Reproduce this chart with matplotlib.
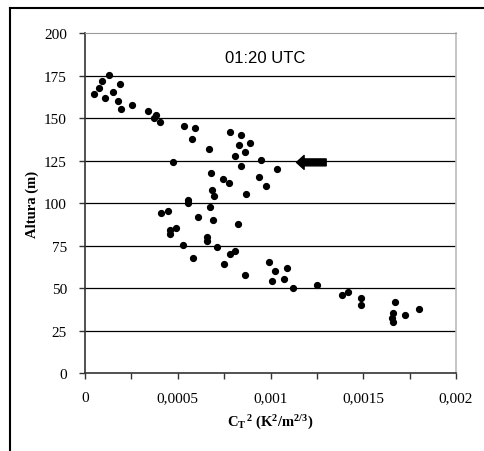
import matplotlib
matplotlib.use('Agg')
import matplotlib.pyplot as plt
from matplotlib.lines import Line2D

plt.rcParams['mathtext.fontset'] = 'custom'
plt.rcParams['mathtext.rm'] = 'Liberation Serif:bold'
plt.rcParams['mathtext.bf'] = 'Liberation Serif:bold'
plt.rcParams['mathtext.it'] = 'Liberation Serif:bold'

# C_T^2 values (K^2/m^(2/3)) and heights (m)
ct2 = [0.0000503, 0.0000773, 0.0000917, 0.000129, 0.000110, 0.000149, 0.000189,
       0.000176, 0.000196, 0.000253, 0.000340, 0.000385, 0.000372, 0.000404,
       0.000535, 0.000595, 0.000575, 0.000667, 0.000476, 0.000782, 0.000843,
       0.000828, 0.000888, 0.000810, 0.000861, 0.000843, 0.000947, 0.001037,
       0.000940, 0.000978, 0.000677, 0.000744, 0.000776, 0.000685, 0.000697,
       0.000868, 0.000555, 0.000555, 0.000672, 0.000411, 0.000449, 0.000607,
       0.000692, 0.000823, 0.000489, 0.000456, 0.000456, 0.000660, 0.000660,
       0.000528, 0.000712, 0.000810, 0.000783, 0.000580, 0.000751, 0.000863,
       0.000992, 0.001024, 0.001091, 0.001006, 0.001071, 0.001123, 0.001249,
       0.001384, 0.001418, 0.001488, 0.001488, 0.001673, 0.001660, 0.001653,
       0.001660, 0.001725, 0.001799]
altura = [164.1, 167.6, 171.9, 175.5, 162.1, 165.6, 170.0,
          160.0, 155.6, 157.8, 154.3, 152.1, 150.1, 147.8,
          145.6, 144.3, 137.8, 132.1, 124.2, 142.1, 139.9,
          134.2, 135.6, 127.8, 129.9, 122.1, 125.6, 119.9,
          115.6, 109.9, 117.8, 114.2, 112.1, 107.8, 104.2,
          105.6, 102.1, 99.9, 97.7, 94.2, 95.6, 92.0,
          89.9, 87.7, 85.6, 84.2, 82.0, 79.9, 77.7,
          75.6, 74.2, 72.0, 69.9, 67.7, 64.2, 57.7,
          65.6, 59.9, 62.0, 54.2, 55.5, 49.9, 52.0,
          45.7, 47.7, 44.2, 39.8, 42.0, 35.5, 32.2,
          30.0, 34.1, 37.7]

x_ticks = [i * 0.00025 for i in range(9)]
x_tick_labels = ['0', '', '0,0005', '', '0,001', '', '0,0015', '', '0,002']
y_ticks = [0, 25, 50, 75, 100, 125, 150, 175, 200]
arrow_height = 124
arrow_from = 0.0013
arrow_to = 0.00114

fig = plt.figure(figsize=(4.85, 4.52), dpi=100)
ax = fig.add_axes([0.1753, 0.1726, 0.7649, 0.7515])

# outer frame (top and left only)
fig.add_artist(Line2D([10 / 485, 1.0], [1 - 9 / 452, 1 - 9 / 452],
                      transform=fig.transFigure, color='black', lw=1.5))
fig.add_artist(Line2D([10 / 485, 10 / 485], [0, 1 - 9 / 452],
                      transform=fig.transFigure, color='black', lw=1.5))

for y in y_ticks[1:-1]:
    ax.axhline(y, color='black', lw=0.9, zorder=1)

ax.plot(ct2, altura, 'o', color='black', ms=4.2, zorder=3)

ax.annotate('', xy=(arrow_to, arrow_height), xytext=(arrow_from, arrow_height),
            arrowprops=dict(arrowstyle='simple,head_width=1.0,head_length=0.55,tail_width=0.5',
                            color='black', shrinkA=0, shrinkB=0, mutation_scale=10),
            zorder=4)

ax.text(0.00097, 186, '01:20 UTC', family='Liberation Sans', fontsize=12,
        ha='center', va='center')

ax.set_xlim(0, 0.002)
ax.set_ylim(0, 200)
ax.set_xticks(x_ticks)
ax.set_xticklabels(x_tick_labels)
ax.set_yticks(y_ticks)
ax.set_yticklabels([str(v) for v in y_ticks])
ax.tick_params(direction='out', length=4, width=1, color='#333333', pad=9)
for lab in ax.get_xticklabels() + ax.get_yticklabels():
    lab.set_family('Liberation Serif')
    lab.set_fontsize(11)

ax.spines['left'].set_color('#333333')
ax.spines['bottom'].set_color('#333333')
ax.spines['left'].set_linewidth(1.2)
ax.spines['bottom'].set_linewidth(1.2)
ax.spines['right'].set_color('#bbbbbb')
ax.spines['top'].set_color('#999999')
ax.spines['right'].set_linewidth(1.2)

ax.set_xlabel(r'C$_{T}$$^{\,2}$ (K$^{2}$/m$^{2/3}$)',
              family='Liberation Serif', fontweight='bold', fontsize=10.5, labelpad=6)
ax.set_ylabel('Altura (m)', family='Liberation Serif', fontweight='bold',
              fontsize=10.5, labelpad=4)

fig.savefig('out.png', dpi=100)
